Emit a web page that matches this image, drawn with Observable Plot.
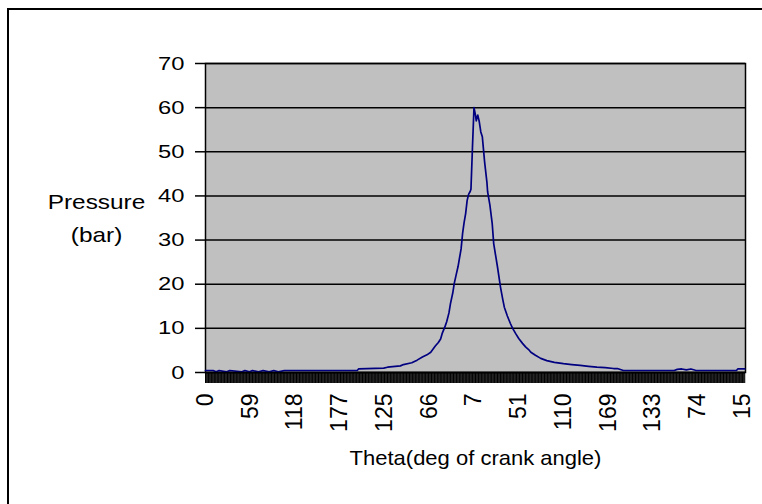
<!DOCTYPE html>
<html><head><meta charset="utf-8">
<script src="https://cdn.jsdelivr.net/npm/d3@7"></script>
<script src="https://cdn.jsdelivr.net/npm/@observablehq/plot@0.6"></script>
<style>
html,body{margin:0;padding:0;background:#fff;overflow:hidden;}
#wrap{position:relative;width:762px;height:504px;overflow:hidden;}
#border{position:absolute;left:7px;top:8px;width:900px;height:700px;border-left:2px solid #000;border-top:2px solid #000;pointer-events:none;}
</style></head><body>
<div id="wrap"><div id="chart"></div><div id="border"></div></div>
<script>
// category index along the x axis (one category per crank-angle sample)
const thetaIndex = [0,10,14,18,28,32,48,52,58,62,70,76,84,90,96,104,150,200,202,235,240,257,261,272,279,286,292,297,303,307,310,312,316,318,321,323,326,328,331,333,335,337,339,341,343,345,347,349,350,352,354,356,357,359,361,363,365,366,368,371,372,375,378,380,383,385,389,392,394,398,402,405,409,413,418,422,426,429,435,442,450,460,472,483,494,505,516,527,538,543,551,600,618,622,628,634,640,646,650,700,702,711];
// pressure (bar)
const pressure = [0.45,0.45,0.15,0.45,0.15,0.45,0.15,0.45,0.15,0.45,0.15,0.45,0.15,0.45,0.15,0.45,0.45,0.45,0.8,1.0,1.2,1.5,1.8,2.2,2.8,3.5,4.0,4.6,6.0,6.8,7.6,8.8,10.5,11.5,13.5,15.6,18,20.2,22.5,24,26,28,31.5,34,36,39,40.4,41,41.5,51,60,58.3,57,58.3,56.8,54.5,53.4,51.5,47.7,43.2,40.9,37.9,33.8,29.2,26,23.9,19.3,16.5,14.8,12.8,11.1,10,8.8,7.7,6.6,5.8,5.2,4.6,3.9,3.2,2.7,2.3,2.0,1.8,1.6,1.4,1.2,1.1,0.9,0.9,0.45,0.45,0.45,0.7,0.8,0.6,0.8,0.5,0.45,0.45,0.8,0.8];
const categoryCount = 712;
const xTickIndex = [0,59,118,177,236,295,354,413,472,531,590,649,708];
const xTickLabels = ["0","59","118","177","125","66","7","51","110","169","133","74","15"];
const yTicks = [0,10,20,30,40,50,60,70];
const yTitle = "Pressure\n(bar)";
const xTitle = "Theta(deg of crank angle)";

const data = thetaIndex.map((i, k) => ({i, p: pressure[k]}));
const font = "'Liberation Sans', Arial, sans-serif";

const chart = Plot.plot({
  width: 762, height: 504,
  marginLeft: 205, marginRight: 17, marginTop: 63, marginBottom: 132,
  style: {fontFamily: font, background: "white"},
  x: {domain: [0, categoryCount], label: null},
  y: {domain: [0, 70], label: null},
  marks: [
    Plot.frame({fill: "#c0c0c0"}),
    Plot.ruleY(yTicks, {stroke: "#000", strokeWidth: 1.5}),
    Plot.frame({stroke: "#000", strokeWidth: 1.5}),
    Plot.line(data, {x: "i", y: "p", stroke: "#000080", strokeWidth: 1.7}),
    Plot.axisY({ticks: yTicks, tickSize: 10, tickPadding: 11, fontSize: 19, strokeWidth: 1.5, label: null}),
    Plot.axisX({ticks: d3.range(categoryCount), tickSize: 11, tickFormat: () => "", label: null}),
    Plot.axisX({ticks: xTickIndex, tickSize: 0, tickPadding: 21, tickRotate: -90, fontSize: 23,
      tickFormat: d => xTickLabels[xTickIndex.indexOf(d)], label: null}),
    Plot.text([yTitle], {text: d => d, frameAnchor: "left", textAnchor: "middle", dx: -109, dy: -3, lineHeight: 1.65, fontSize: 20}),
    Plot.text([xTitle], {text: d => d, frameAnchor: "bottom", dy: 86, fontSize: 20, lineAnchor: "middle"}),
    Plot.ruleY([0], {stroke: "#000", strokeWidth: 1.5})
  ]
});
document.getElementById("chart").appendChild(chart);

function stretchEl(t, s, anchor) {
  const g = document.createElementNS("http://www.w3.org/2000/svg", "g");
  t.parentNode.insertBefore(g, t);
  g.appendChild(t);
  const b = g.getBBox();
  const cx = anchor === "end" ? b.x + b.width : b.x + b.width / 2;
  g.setAttribute("transform", `translate(${cx},0) scale(${s},1) translate(${-cx},0)`);
}
chart.querySelectorAll('g[aria-label="y-axis tick label"] text').forEach(t => stretchEl(t, 1.25, "end"));
Array.from(chart.querySelectorAll("text")).forEach(t => {
  const s = t.textContent;
  if (s.startsWith("Pressure")) stretchEl(t, 1.22, "middle");
  else if (s.startsWith("Theta")) stretchEl(t, 1.1, "middle");
});
</script>
</body></html>
